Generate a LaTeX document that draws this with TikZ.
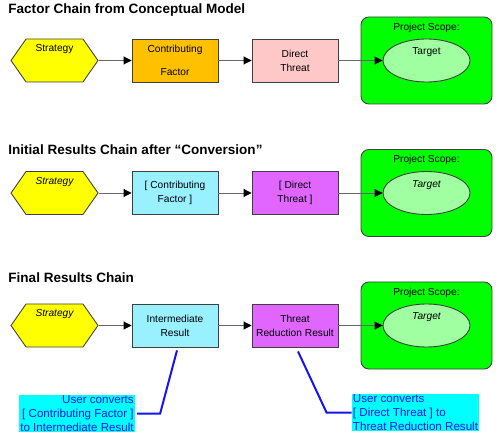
\documentclass[tikz,border=0pt]{standalone}
\usepackage{fontspec}
\setmainfont{Liberation Sans}
\usetikzlibrary{arrows.meta,shapes.symbols,shapes.geometric}
\definecolor{stratyellow}{RGB}{255,255,0}
\definecolor{factororange}{RGB}{255,192,0}
\definecolor{threatpink}{RGB}{255,200,200}
\definecolor{resultcyan}{RGB}{153,240,255}
\definecolor{reductionpurple}{RGB}{224,102,255}
\definecolor{scopegreen}{RGB}{0,255,0}
\definecolor{targetgreen}{RGB}{160,255,160}
\definecolor{noteblue}{RGB}{20,20,240}
\definecolor{notecyan}{RGB}{0,255,255}
\definecolor{edgegray}{RGB}{64,64,64}
\newlength\px
\setlength\px{0.02cm}
\newcommand\boxfont{\fontsize{5.8}{7.9}\selectfont}

\tikzset{
  chaintitle/.style={anchor=west, inner sep=0pt, font=\fontsize{7.7}{9}\selectfont\bfseries},
  strategybox/.style={signal, signal to=west and east, signal pointer angle=110, draw=edgegray, fill=stratyellow, minimum width=87\px, minimum height=43\px, inner sep=0pt},
  factorbox/.style={draw=edgegray, minimum width=86\px, minimum height=43\px, align=center, inner sep=0pt},
  scopebox/.style={draw=edgegray, fill=scopegreen, rounded corners=4.5pt, minimum width=131\px, minimum height=87\px},
  targetbox/.style={ellipse, draw=edgegray, fill=targetgreen, minimum width=87\px, minimum height=43\px, inner sep=0pt},
  link/.style={draw=gray!80!black, -{Triangle[length=4.5pt, width=4.5pt, color=black, fill=black]}},
  notebox/.style={fill=notecyan, text=noteblue, inner sep=1\px, font=\fontsize{6.6}{7.9}\selectfont},
  noteline/.style={draw=noteblue, line width=2\px},
}

\begin{document}
\begin{tikzpicture}[x=1\px, y=-1\px, font=\boxfont, line width=0.5pt]
    \useasboundingbox (0,0) rectangle (500,435);

    % factor chain
    \node[chaintitle] (title1) at (8,10) {Factor Chain from Conceptual Model};
    \node[strategybox, label={[anchor=north]north:Strategy}] (strategy1) at (54.5,60.5) {};
    \node[factorbox, fill=factororange] (factor1) at (175,60.5) {Contributing\\[5pt]Factor};
    \node[factorbox, fill=threatpink] (threat1) at (295,60.5) {Direct\\Threat};
    \node[scopebox, label={[anchor=north]north:Project Scope:}] (scope1) at (426.5,60.5) {};
    \node[targetbox, label={[yshift=8\px]center:Target}] (target1) at (426.5,60.5) {};
    \draw[link] (strategy1) -- (factor1);
    \draw[link] (factor1) -- (threat1);
    \draw[link] (threat1) -- (target1);

    % initial results chain
    \node[chaintitle] (title2) at (8,149.5) {Initial Results Chain after “Conversion”};
    \node[strategybox, label={[anchor=north]north:\itshape Strategy}] (strategy2) at (54.5,193) {};
    \node[factorbox, fill=resultcyan] (factor2) at (175,193) {{[} Contributing\\Factor ]};
    \node[factorbox, fill=reductionpurple] (threat2) at (295,193) {{[} Direct\\Threat ]};
    \node[scopebox, label={[anchor=north]north:Project Scope:}] (scope2) at (426.5,193) {};
    \node[targetbox, label={[yshift=8\px]center:\itshape Target}] (target2) at (426.5,193) {};
    \draw[link] (strategy2) -- (factor2);
    \draw[link] (factor2) -- (threat2);
    \draw[link] (threat2) -- (target2);

    % final results chain
    \node[chaintitle] (title3) at (8,278) {Final Results Chain};
    \node[strategybox, label={[anchor=north]north:\itshape Strategy}] (strategy3) at (54.5,325.5) {};
    \node[factorbox, fill=resultcyan] (result3) at (175,325.5) {Intermediate\\Result};
    \node[factorbox, fill=reductionpurple] (reduction3) at (295,325.5) {Threat\\Reduction Result};
    \node[scopebox, label={[anchor=north]north:Project Scope:}] (scope3) at (426.5,325.5) {};
    \node[targetbox, label={[yshift=8\px]center:\itshape Target}] (target3) at (426.5,325.5) {};
    \draw[link] (strategy3) -- (result3);
    \draw[link] (result3) -- (reduction3);
    \draw[link] (reduction3) -- (target3);

    % conversion notes
    \node[notebox, align=right] (note1) at (77,413.5) {User converts\\{[} Contributing Factor ]\\to Intermediate Result};
    \node[notebox, align=left] (note2) at (415.5,412.5) {User converts\\{[} Direct Threat ] to\\Threat Reduction Result};
    \draw[noteline] ([xshift=2\px]note1.east) -- ++(23,0) -- ([xshift=2\px,yshift=-3\px]result3.south);
    \draw[noteline] (note2.west) -- ++(-25,0) -- ([xshift=3\px,yshift=-4\px]reduction3.south);
\end{tikzpicture}
\end{document}
